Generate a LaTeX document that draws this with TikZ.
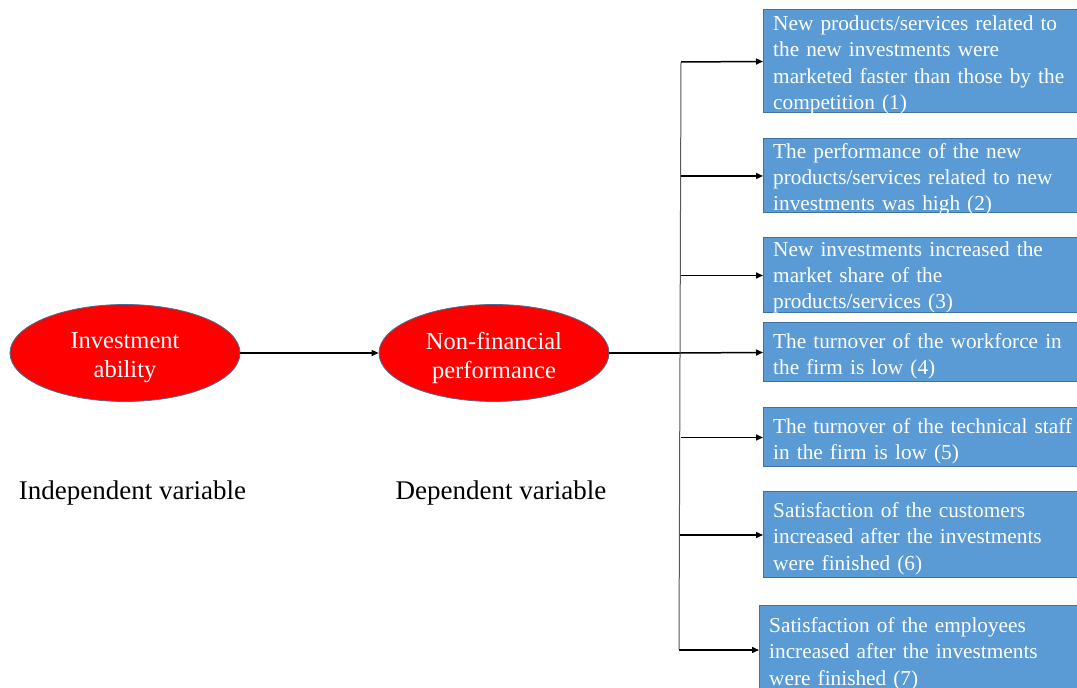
\documentclass[tikz,border=0pt]{standalone}
\usepackage{fontspec}
\setmainfont{Liberation Serif}
\usetikzlibrary{shapes.geometric,arrows.meta}
\definecolor{boxblue}{HTML}{5B9BD5}
\definecolor{edgeblue}{HTML}{41719C}
\tikzset{
  varell/.style={ellipse, draw=edgeblue, line width=0.8pt, fill=red,
    minimum width=230pt, minimum height=97pt, inner sep=0pt},
  elltext/.style={text=white, align=center, inner sep=0pt,
    font=\fontsize{24.5}{29}\selectfont},
  itembox/.style={rectangle, draw=edgeblue, line width=1pt, fill=boxblue,
    anchor=west, minimum width=330pt, inner sep=0pt},
  boxtext/.style={text=white, anchor=west, text width=320pt, inner sep=0pt, align=left,
    font=\fontsize{21.3}{26.3}\selectfont},
  lbl/.style={font=\fontsize{27}{32}\selectfont, inner sep=0pt, anchor=base},
  arr/.style={-{Triangle[length=7pt,width=6pt]}, line width=1.5pt, black},
}
\begin{document}
\begin{tikzpicture}[x=1pt,y=1pt]
\useasboundingbox (0,0) rectangle (1077,688);
\clip (0,0) rectangle (1077,688);
% ellipses
\node[varell] (ia) at (125,335) {};
\node[elltext] (iat) at ([yshift=-4.5pt]ia.center) {Investment\\ability};
\node[varell] (nf) at (494,335) {};
\node[elltext] (nft) at ([yshift=-4.5pt]nf.center) {Non-financial\\performance};
\draw[arr] (ia.east) -- (nf.west);
% labels
\node[lbl] (iv) at (132.5,188) {Independent variable};
\node[lbl] (dv) at (501,188) {Dependent variable};
% boxes
\node[itembox, minimum height=103pt] (b1) at (763,626.5) {};
\node[itembox, minimum height=74pt] (b2) at (763,512) {};
\node[itembox, minimum height=75pt] (b3) at (763,412.5) {};
\node[itembox, minimum height=59pt] (b4) at (763,335.5) {};
\node[itembox, minimum height=59pt] (b5) at (763,250.5) {};
\node[itembox, minimum height=86pt] (b6) at (763,153) {};
\node[itembox, minimum height=88pt] (b7) at (759,38) {};
\node[boxtext] (t1) at ([xshift=10pt,yshift=-3.5pt]b1.west) {New products/services related to\\the new investments were\\marketed faster than those by the\\competition (1)};
\node[boxtext] (t2) at ([xshift=10pt,yshift=-3.5pt]b2.west) {The performance of the new\\products/services related to new\\investments was high (2)};
\node[boxtext] (t3) at ([xshift=10pt,yshift=-2pt]b3.west) {New investments increased the\\market share of the\\products/services (3)};
\node[boxtext] (t4) at ([xshift=10pt,yshift=-3.5pt]b4.west) {The turnover of the workforce in\\the firm is low (4)};
\node[boxtext] (t5) at ([xshift=10pt,yshift=-3.5pt]b5.west) {The turnover of the technical staff\\in the firm is low (5)};
\node[boxtext] (t6) at ([xshift=10pt,yshift=-3.5pt]b6.west) {Satisfaction of the customers\\increased after the investments\\were finished (6)};
\node[boxtext] (t7) at ([xshift=10pt,yshift=-3.5pt]b7.west) {Satisfaction of the employees\\increased after the investments\\were finished (7)};
% trunk
\coordinate (ttop) at (681,626);
\coordinate (tbot) at (679,38);
\coordinate (tmid) at (681,335);
\draw[line width=2.5pt] (nf.east) -- (tmid);
\draw[gray!70!black, line width=1pt] (ttop) -- (tbot);
\draw[arr] (ttop) -- (b1.west);
\draw[arr] (681,512) coordinate (c2) -- (b2.west);
\draw[arr] (681,412.5) coordinate (c3) -- (b3.west);
\draw[arr] (tmid) -- (b4.west);
\draw[arr] (681,250.5) coordinate (c5) -- (b5.west);
\draw[arr] (680,153) coordinate (c6) -- (b6.west);
\draw[arr] (tbot) -- (b7.west);
\end{tikzpicture}
\end{document}
